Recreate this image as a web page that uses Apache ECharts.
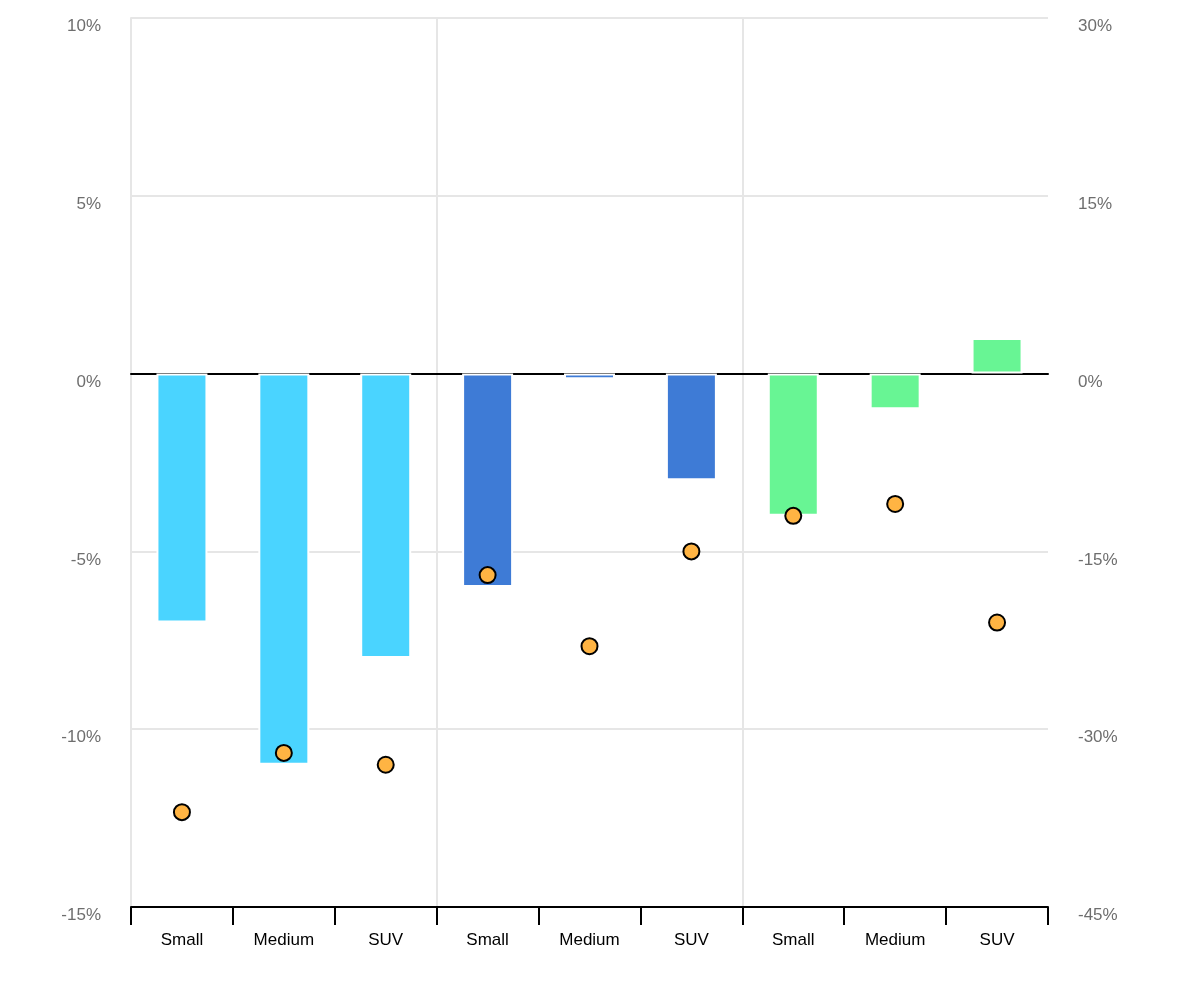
<!DOCTYPE html>
<html>
<head>
<meta charset="utf-8">
<script src="https://cdn.jsdelivr.net/npm/echarts@6/dist/echarts.min.js"></script>
<style>html,body{margin:0;padding:0;background:#fff;}#c{width:1200px;height:1000px;}</style>
</head>
<body>
<div id="c"></div>
<script>
var categories = ['Small','Medium','SUV','Small','Medium','SUV','Small','Medium','SUV'];
var groups = ['G1','G2','G3'];
var barValues = [-7, -11, -8, -6, -0.16, -3, -4, -1, 1];
var dotValues = [-37, -32, -33, -17, -23, -15, -12, -11, -21];
var groupColors = ['#4AD4FF', '#3E7BD6', '#68F594'];
var leftTicks = {min: -15, max: 10, interval: 5};
var rightTicks = {min: -45, max: 30, interval: 15};

var chart = echarts.init(document.getElementById('c'));
var font = 'Liberation Sans, Arial, sans-serif';
var barData = barValues.map(function (v, i) {
  return {value: v, itemStyle: {color: groupColors[Math.floor(i / 3)]}};
});
chart.setOption({
  animation: false,
  grid: {left: 131, right: 152, top: 18, bottom: 93},
  xAxis: [{
    type: 'category',
    data: categories,
    position: 'bottom',
    axisLine: {onZero: false, lineStyle: {color: '#000', width: 2}},
    axisTick: {show: true, length: 18, interval: 0, lineStyle: {color: '#000', width: 2}},
    axisLabel: {interval: 0, color: '#000', fontSize: 17, fontFamily: font, margin: 25},
    splitLine: {show: false}
  }, {
    type: 'category',
    data: groups,
    position: 'bottom',
    axisLine: {show: true, onZero: true, lineStyle: {color: '#000', width: 2}},
    axisTick: {show: false},
    axisLabel: {show: false},
    splitLine: {show: true, lineStyle: {color: ['#e6e6e6', '#e6e6e6', '#e6e6e6', 'rgba(0,0,0,0)'], width: 2}}
  }],
  yAxis: [{
    type: 'value',
    min: leftTicks.min, max: leftTicks.max, interval: leftTicks.interval,
    axisLine: {show: true, lineStyle: {color: '#e6e6e6', width: 2}},
    axisTick: {show: false},
    axisLabel: {formatter: '{value}%', color: '#6e6e6e', fontSize: 17, fontFamily: font, margin: 30, verticalAlign: 'top'},
    splitLine: {show: true, lineStyle: {color: '#e6e6e6', width: 2}}
  }, {
    type: 'value',
    position: 'right',
    min: rightTicks.min, max: rightTicks.max, interval: rightTicks.interval,
    axisLine: {show: false},
    axisTick: {show: false},
    axisLabel: {formatter: '{value}%', color: '#6e6e6e', fontSize: 17, fontFamily: font, margin: 30, verticalAlign: 'top'},
    splitLine: {show: false}
  }],
  series: [{
    type: 'bar',
    xAxisIndex: 0,
    yAxisIndex: 0,
    data: barData,
    barWidth: 51,
    itemStyle: {borderColor: '#fff', borderWidth: 2},
    z: 3
  }, {
    type: 'scatter',
    xAxisIndex: 0,
    yAxisIndex: 1,
    data: dotValues,
    symbol: 'circle',
    symbolSize: 16,
    itemStyle: {color: '#FFB443', borderColor: '#000', borderWidth: 2, opacity: 1},
    z: 4
  }]
});
</script>
</body>
</html>
